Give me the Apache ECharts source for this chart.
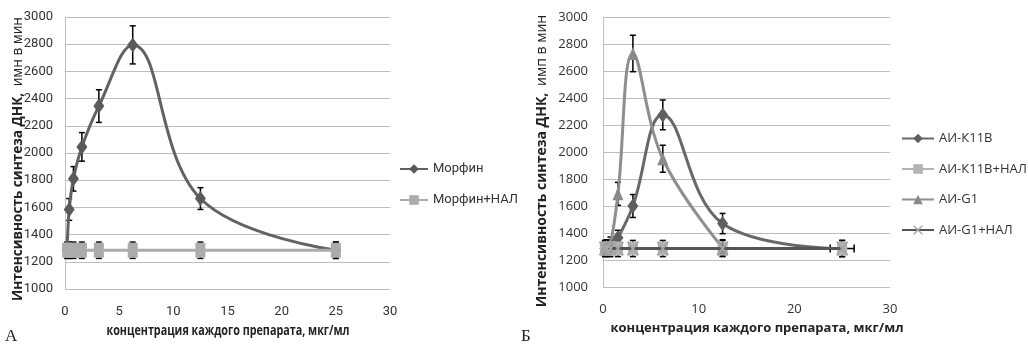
<!DOCTYPE html>
<html><head><meta charset="utf-8">
<script src="https://cdn.jsdelivr.net/npm/echarts@6/dist/echarts.min.js"></script>
<style>html,body{margin:0;padding:0;background:#fff}#c{width:1028px;height:344px}</style>
</head><body><div id="c"></div>
<script>
// ---- data ----
const conc = [0.195, 0.39, 0.78, 1.56, 3.125, 6.25, 12.5, 25];
const morphine = [1285, 1585, 1810, 2045, 2345, 2795, 1665, 1285];
const morphineErr = [0, 80, 90, 105, 120, 140, 80, 60];
const morphineNal = [1285, 1285, 1285, 1285, 1285, 1285, 1285, 1285];
const morphineNalErr = [60, 60, 60, 60, 60, 60, 60, 60];
const k11b = [1285, 1290, 1300, 1365, 1600, 2275, 1470, 1285];
const k11bErr = [50, 50, 50, 55, 85, 110, 75, 60];
const k11bNal = [1285, 1285, 1285, 1285, 1285, 1285, 1285, 1285];
const k11bNalErr = [60, 60, 60, 60, 60, 60, 60, 60];
const g1 = [1285, 1300, 1320, 1690, 2730, 1950, 1290];
const g1Err = [50, 50, 50, 85, 135, 100, 60];
const g1Nal = [1285, 1285, 1285, 1285, 1285, 1285, 1285, 1285];
const g1NalErr = [60, 60, 60, 60, 60, 60, 60, 60];
const g1NalXErr = [0, 0, 0, 0, 0, 0, 0, 1.25];

const narrow = "Roboto,sans-serif";
const calib = "'Open Sans','Lato',sans-serif";
const gridColor = '#bfbfbf';

function pts(vals){ return vals.map((v,i)=>[conc[i], v]); }

function vRender(params, api){
  const x = api.value(0), lo = api.value(1), hi = api.value(2);
  const a = api.coord([x, lo]), b = api.coord([x, hi]);
  const w = 3, st = {stroke:'#000', lineWidth:1.5};
  return {type:'group', children:[
    {type:'line', shape:{x1:a[0],y1:a[1],x2:b[0],y2:b[1]}, style:st},
    {type:'line', shape:{x1:a[0]-w,y1:a[1],x2:a[0]+w,y2:a[1]}, style:st},
    {type:'line', shape:{x1:b[0]-w,y1:b[1],x2:b[0]+w,y2:b[1]}, style:st}
  ]};
}
function hRender(params, api){
  const y = api.value(0), lo = api.value(1), hi = api.value(2);
  const a = api.coord([lo, y]), b = api.coord([hi, y]);
  const w = 4, st = {stroke:'#000', lineWidth:1.5};
  return {type:'group', children:[
    {type:'line', shape:{x1:a[0],y1:a[1],x2:b[0],y2:b[1]}, style:st},
    {type:'line', shape:{x1:a[0],y1:a[1]-w,x2:a[0],y2:a[1]+w}, style:st},
    {type:'line', shape:{x1:b[0],y1:b[1]-w,x2:b[0],y2:b[1]+w}, style:st}
  ]};
}
function errSeries(vals, errs, idx){
  const d = [];
  vals.forEach((v,i)=>{ if (errs[i] > 0) d.push([conc[i], v - errs[i], v + errs[i]]); });
  return {type:'custom', xAxisIndex:idx, yAxisIndex:idx, renderItem:vRender, data:d, z:1, silent:true, encode:{x:0, y:[1,2]}};
}
function xErrSeries(vals, errs, idx){
  const d = [];
  vals.forEach((v,i)=>{ if (errs[i] > 0) d.push([v, conc[i] - errs[i], conc[i] + errs[i]]); });
  return {type:'custom', xAxisIndex:idx, yAxisIndex:idx, renderItem:hRender, data:d, z:1, silent:true};
}
function lineSeries(name, vals, idx, color, lineColor, symbol, size, z){
  return {type:'line', name, xAxisIndex:idx, yAxisIndex:idx, data:pts(vals), smooth:0.4,
    symbol, symbolSize:size, showSymbol:true, z: z || 2,
    lineStyle:{color: lineColor || color, width:3},
    itemStyle:{color, borderWidth:0}};
}
const xSym = 'path://M1,0L5,4L9,0L10,1L6,5L10,9L9,10L5,6L1,10L0,9L4,5L0,1Z';

function yAxis(idx, font, size, margin){
  return {type:'value', gridIndex:idx, min:1000, max:3000, interval:200,
    axisLine:{show:true, lineStyle:{color:gridColor, width:1}}, axisTick:{show:false},
    splitLine:{lineStyle:{color:gridColor, width:1}},
    axisLabel:{fontFamily:font, fontSize:size, color:'#333', margin, formatter:(v)=>String(v)}};
}
function xAxis(idx, interval, font, size){
  return {type:'value', gridIndex:idx, min:0, max:30, interval,
    axisLine:{show:false}, axisTick:{show:false}, splitLine:{show:false},
    axisLabel:{fontFamily:font, fontSize:size, color:'#333', margin:16, formatter:(v)=>String(v)}};
}

const chart = echarts.init(document.getElementById('c'), null, {renderer:'canvas'});
chart.setOption({
  backgroundColor:'#fff',
  animation:false,
  grid:[
    {left:65, top:17, width:325, height:272},
    {left:603, top:17, width:287, height:270}
  ],
  xAxis:[xAxis(0, 5, narrow, 13), xAxis(1, 10, calib, 13)],
  yAxis:[yAxis(0, narrow, 13, 12), yAxis(1, calib, 13, 15)],
  legend:[
    {orient:'vertical', left:394, top:157, itemWidth:28, itemHeight:12, itemGap:17,
     data:['Морфин','Морфин+НАЛ'],
     textStyle:{fontFamily:"Roboto,sans-serif", fontSize:13, color:'#333', lineHeight:14}},
    {orient:'vertical', left:896, top:126, itemWidth:32, itemHeight:12, itemGap:15.5,
     data:['АИ-К11В','АИ-К11В+НАЛ','АИ-G1','АИ-G1+НАЛ'],
     textStyle:{fontFamily:calib, fontSize:13, color:'#333', lineHeight:15}}
  ],
  graphic:[
    {type:'text', x:18, y:159, rotation:Math.PI/2, scaleX:0.97, style:{
      text:'{b|Интенсивность синтеза ДНК,}  {r|имн в мин}', textAlign:'center', textVerticalAlign:'middle',
      rich:{b:{fontFamily:calib, fontWeight:'bold', fontSize:14, fill:'#222'},
            r:{fontFamily:calib, fontSize:14, fill:'#222'}}}},
    {type:'text', x:542, y:161, rotation:Math.PI/2, style:{
      text:'{b|Интенсивность синтеза ДНК,}  {r|имп в мин}', textAlign:'center', textVerticalAlign:'middle',
      rich:{b:{fontFamily:calib, fontWeight:'bold', fontSize:14, fill:'#222'},
            r:{fontFamily:calib, fontSize:14, fill:'#222'}}}},
    {type:'text', x:228, y:331, scaleX:0.77, style:{text:'концентрация каждого препарата, мкг/мл',
      textAlign:'center', textVerticalAlign:'middle', fontFamily:calib, fontWeight:'bold', fontSize:14, fill:'#222'}},
    {type:'text', x:757, y:328, style:{text:'концентрация каждого препарата, мкг/мл',
      textAlign:'center', textVerticalAlign:'middle', fontFamily:calib, fontWeight:'bold', fontSize:13, fill:'#222'}},
    {type:'text', x:5, y:337, style:{text:'А', textAlign:'left', textVerticalAlign:'middle',
      fontFamily:"'Liberation Serif','DejaVu Serif',serif", fontSize:17, fill:'#222'}},
    {type:'text', x:521, y:337, style:{text:'Б', textAlign:'left', textVerticalAlign:'middle',
      fontFamily:"'Liberation Serif','DejaVu Serif',serif", fontSize:17, fill:'#222'}}
  ],
  series:[
    errSeries(morphine, morphineErr, 0),
    errSeries(morphineNal, morphineNalErr, 0),
    lineSeries('Морфин', morphine, 0, '#5a5a5a', '#626262', 'diamond', [11,15], 2),
    lineSeries('Морфин+НАЛ', morphineNal, 0, '#ababab', '#ababab', 'rect', [10,15], 3),

    errSeries(k11b, k11bErr, 1),
    errSeries(g1, g1Err, 1),
    errSeries(g1Nal, g1NalErr, 1),
    xErrSeries(g1Nal, g1NalXErr, 1),
    lineSeries('АИ-К11В', k11b, 1, '#5f5f5f', '#686868', 'diamond', [11,15], 2),
    lineSeries('АИ-К11В+НАЛ', k11bNal, 1, '#b3b3b3', '#b3b3b3', 'rect', [10,14], 3),
    lineSeries('АИ-G1', g1, 1, '#8a8a8a', '#8e8e8e', 'triangle', [11,13], 4),
    lineSeries('АИ-G1+НАЛ', g1Nal, 1, '#a6a6a6', '#555555', xSym, [12,15], 5)
  ]
});
</script></body></html>
